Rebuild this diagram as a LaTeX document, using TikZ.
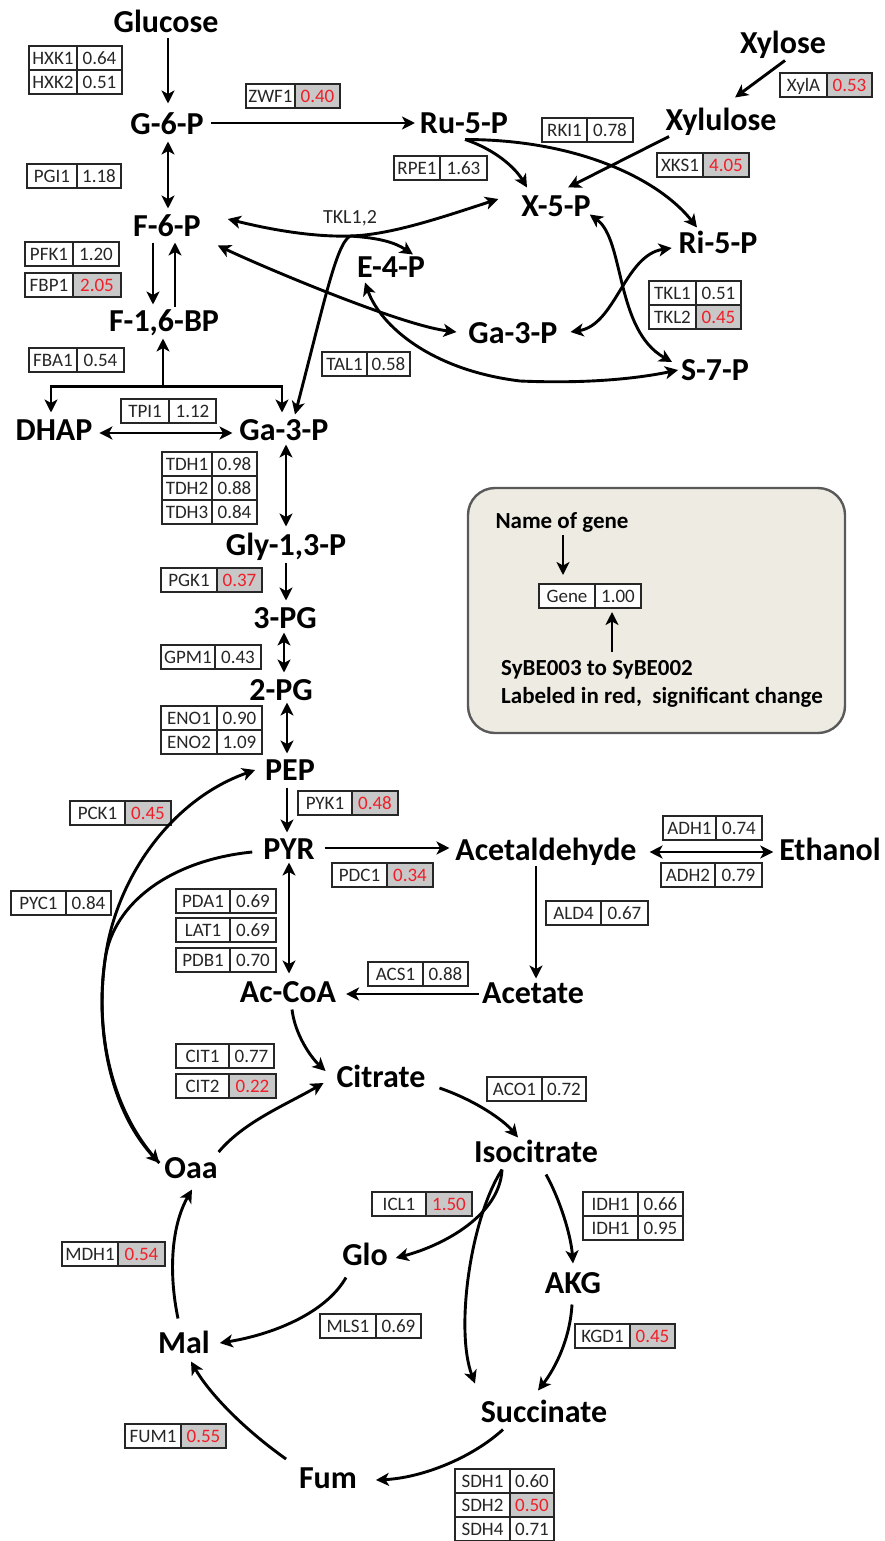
\documentclass[tikz,border=0pt]{standalone}
\usepackage{fontspec}
\setmainfont{Carlito}
\usetikzlibrary{arrows.meta,calc}
\definecolor{cellgrey}{RGB}{200,200,200}
\definecolor{redv}{RGB}{240,30,40}
\definecolor{legfill}{RGB}{238,236,226}
\newcommand\metfont{\fontsize{32}{38}\selectfont\bfseries}
\newcommand\genefont{\fontsize{19}{22}\selectfont}
\newcommand\legfont{\fontsize{23}{27}\selectfont\bfseries}
\newcommand\gb[8]{%
  \node[gc,minimum width=#4pt] (#1) at (#2,#3) {#6};
  \node[#8,minimum width=#5pt] (#1v) at (#1.north east) {#7};}
\begin{document}
\begin{tikzpicture}[x=1pt,y=-1pt,
  met/.style={font=\metfont,inner sep=0pt,outer sep=0pt,text height=21pt,text depth=0pt},
  gc/.style={draw=black!85,line width=1.6pt,minimum height=24pt,inner sep=0pt,outer sep=0pt,text height=12.5pt,text depth=0pt,font=\genefont,text=black!85,anchor=north west,fill=white},
  gv/.style={gc},
  gr/.style={gc,fill=cellgrey,text=redv},
  tip/.tip={Stealth[length=13pt,width=13pt,inset=3.5pt]},
  arr/.style={line width=2.9pt,-tip},
  arrb/.style={line width=2.9pt,tip-tip},
]
\useasboundingbox (0,0) rectangle (885,1541);
\fill[white] (0,0) rectangle (885,1541);

% ---------- legend ----------
\node[draw=black!65,line width=2.4pt,fill=legfill,rounded corners=27pt,minimum width=377pt,minimum height=245pt,anchor=north west,inner sep=0pt,outer sep=0pt] (legend) at (468,488) {};
\node[font=\legfont,inner sep=0pt,anchor=base,text depth=0pt] (nog) at (562,528) {Name of gene};
\gb{lg}{539}{584}{56}{46}{Gene}{1.00}{gv}
\node[font=\legfont,inner sep=0pt,anchor=base west] (sybe) at (501,675) {SyBE003 to SyBE002};
\node[font=\legfont,inner sep=0pt,anchor=base west] (lab) at (501,703) {Labeled in red,\ \ significant change};
\draw[arr,line width=2.6pt] ($(nog.south)+(1,7)$) -- ($(lg.north)+(-4,-9)$);
\draw[arr,line width=2.6pt] ($(lgv.south)+(-6,44)$) -- ($(lgv.south)+(-6,4)$);

% ---------- metabolites ----------
\node[met] (glc) at (166,22) {Glucose};
\node[met] (g6p) at (167,124) {G-6-P};
\node[met] (ru5p) at (464,123) {Ru-5-P};
\node[met] (xyl) at (783,43) {Xylose};
\node[met] (xylu) at (721,120) {Xylulose};
\node[met] (x5p) at (556,206) {X-5-P};
\node[met] (ri5p) at (718,243) {Ri-5-P};
\node[met] (f6p) at (167,226) {F-6-P};
\node[met] (e4p) at (391,267) {E-4-P};
\node[met] (ga3pb) at (513,333) {Ga-3-P};
\node[met] (s7p) at (715,370) {S-7-P};
\node[met] (fbp) at (164,321) {F-1,6-BP};
\node[met] (dhap) at (54,430) {DHAP};
\node[met] (ga3p) at (284,430) {Ga-3-P};
\node[met] (gly) at (286,545) {Gly-1,3-P};
\node[met] (pg3) at (285,618) {3-PG};
\node[met] (pg2) at (281,690) {2-PG};
\node[met] (pep) at (290,770) {PEP};
\node[met] (pyr) at (289,849) {PYR};
\node[met] (acald) at (546,850) {Acetaldehyde};
\node[met] (etoh) at (830,850) {Ethanol};
\node[met] (acet) at (533,993) {Acetate};
\node[met] (accoa) at (288,992) {Ac-CoA};
\node[met] (cit) at (381,1077) {Citrate};
\node[met] (icit) at (536,1152) {Isocitrate};
\node[met] (oaa) at (191,1168) {Oaa};
\node[met] (glo) at (365,1255) {Glo};
\node[met] (akg) at (573,1283) {AKG};
\node[met] (mal) at (184,1343) {Mal};
\node[met] (suc) at (544,1412) {Succinate};
\node[met] (fum) at (328,1478) {Fum};

\node[font=\fontsize{20}{24}\selectfont,text=black!85,inner sep=0pt] (tkl) at (350,218) {TKL1,2};

% ---------- gene boxes ----------
\gb{hxka}{29}{46}{48}{45}{HXK1}{0.64}{gv}
\gb{hxkb}{29}{70}{48}{45}{HXK2}{0.51}{gv}
\gb{zwf}{246}{84}{49}{45}{ZWF1}{0.40}{gr}
\gb{pgi}{27}{164}{50}{44}{PGI1}{1.18}{gv}
\gb{pfk}{25}{242}{48}{46}{PFK1}{1.20}{gv}
\gb{fbpa}{25}{273}{48}{48}{FBP1}{2.05}{gr}
\gb{fba}{29}{348}{48}{47}{FBA1}{0.54}{gv}
\gb{tpi}{121}{399}{48}{47}{TPI1}{1.12}{gv}
\gb{tal}{322}{352}{45}{43}{TAL1}{0.58}{gv}
\gb{rki}{542}{118}{45}{46}{RKI1}{0.78}{gv}
\gb{rpe}{394}{156}{46}{47}{RPE1}{1.63}{gv}
\gb{xyla}{780}{73}{47}{45}{XylA}{0.53}{gr}
\gb{xks}{657}{153}{46}{46}{XKS1}{4.05}{gr}
\gb{tkla}{649}{281}{47}{45}{TKL1}{0.51}{gv}
\gb{tklb}{649}{305}{47}{45}{TKL2}{0.45}{gr}
\gb{tdha}{162}{452}{50}{45}{TDH1}{0.98}{gv}
\gb{tdhb}{162}{476}{50}{45}{TDH2}{0.88}{gv}
\gb{tdhc}{162}{500}{50}{45}{TDH3}{0.84}{gv}
\gb{pgk}{161}{568}{56}{45}{PGK1}{0.37}{gr}
\gb{gpm}{161}{645}{54}{46}{GPM1}{0.43}{gv}
\gb{enoa}{161}{706}{56}{45}{ENO1}{0.90}{gv}
\gb{enob}{161}{730}{56}{45}{ENO2}{1.09}{gv}
\gb{pck}{70}{801}{55}{46}{PCK1}{0.45}{gr}
\gb{pyk}{298}{791}{54}{46}{PYK1}{0.48}{gr}
\gb{pdc}{332}{863}{55}{46}{PDC1}{0.34}{gr}
\gb{pyc}{11}{891}{55}{45}{PYC1}{0.84}{gv}
\gb{pda}{176}{889}{54}{46}{PDA1}{0.69}{gv}
\gb{lat}{176}{918}{54}{46}{LAT1}{0.69}{gv}
\gb{pdb}{176}{948}{54}{46}{PDB1}{0.70}{gv}
\gb{adha}{663}{816}{53}{46}{ADH1}{0.74}{gv}
\gb{adhb}{661}{863}{54}{47}{ADH2}{0.79}{gv}
\gb{ald}{546}{901}{55}{47}{ALD4}{0.67}{gv}
\gb{acs}{368}{962}{55}{45}{ACS1}{0.88}{gv}
\gb{cita}{176}{1044}{53}{45}{CIT1}{0.77}{gv}
\gb{citb}{176}{1074}{53}{47}{CIT2}{0.22}{gr}
\gb{aco}{487}{1077}{55}{44}{ACO1}{0.72}{gv}
\gb{icl}{372}{1192}{54}{46}{ICL1}{1.50}{gr}
\gb{idha}{583}{1192}{55}{45}{IDH1}{0.66}{gv}
\gb{idhb}{583}{1216}{55}{45}{IDH1}{0.95}{gv}
\gb{mdh}{62}{1242}{56}{47}{MDH1}{0.54}{gr}
\gb{mls}{320}{1314}{56}{45}{MLS1}{0.69}{gv}
\gb{kgd}{575}{1324}{55}{45}{KGD1}{0.45}{gr}
\gb{fum1}{125}{1424}{56}{45}{FUM1}{0.55}{gr}
\gb{sdha}{455}{1469}{55}{44}{SDH1}{0.60}{gv}
\gb{sdhb}{455}{1493}{55}{44}{SDH2}{0.50}{gr}
\gb{sdhc}{455}{1517}{55}{44}{SDH4}{0.71}{gv}

% ---------- glycolysis ----------
\draw[arr] ($(glc.south)+(2,6)$) -- ($(g6p.north)+(1,-10)$);
\draw[arr] ($(g6p.east)+(7,-1)$) -- ($(ru5p.west)+(-5,0)$);
\draw[arrb] ($(g6p.south)+(1,7)$) -- ($(f6p.north)+(1,-7)$);
\draw[arr] ($(f6p.south)+(-14,6)$) -- ($(fbp.north)+(-11,-6)$);
\draw[arr] ($(fbp.north)+(11,-4)$) -- ($(f6p.south)+(8,6)$);
\coordinate (fj) at ($(fbp.south)+(-1,55)$);
\draw[arr] (fj) -- ($(fbp.south)+(-1,7)$);
\draw[arr] (fj) -| ($(dhap.north)+(-3,-7)$);
\draw[arr] (fj) -| ($(ga3p.north)+(-2,-7)$);
\draw[arrb] ($(dhap.east)+(7,3)$) -- ($(ga3p.west)+(-7,3)$);
\draw[arrb] ($(ga3p.south)+(2,4)$) -- ($(gly.north)+(0,-8)$);
\draw[arr] ($(gly.south)+(0,7)$) -- ($(pg3.north)+(1,-7)$);
\draw[arrb] ($(pg3.south)+(-1,4)$) -- ($(pg2.north)+(3,-7)$);
\draw[arrb] ($(pg2.south)+(6,2)$) -- ($(pep.north)+(-3,-6)$);
\draw[arr] ($(pep.south)+(-3,7)$) -- ($(pyr.north)+(-2,-6)$);
\draw[arr] ($(pyr.east)+(10,-1)$) -- ($(acald.west)+(-6,-2)$);
\draw[arrb] ($(pyr.south)+(0,3)$) -- ($(accoa.north)+(1,-8)$);
\draw[arrb] ($(acald.east)+(13,2)$) -- ($(etoh.west)+(-6,2)$);
\draw[arr] ($(acald.south)+(-10,5)$) -- ($(acet.north)+(3,-4)$);
\draw[arr] ($(acet.west)+(-3,1)$) -- ($(accoa.east)+(10,2)$);

% ---------- anaplerotic ----------
\coordinate (pm) at (105,960);
\draw[arr] ($(oaa.west)+(-5,-5)$) .. controls (110,1110) and (95,1030) .. (pm) .. controls (115,880) and (170,800) .. ($(pep.west)+(-10,0)$);
\draw[arr] ($(pyr.west)+(-11,3)$) .. controls (172,860) and (113,902) .. (pm) .. controls (95,1030) and (110,1110) .. ($(oaa.west)+(-5,-5)$);

% ---------- TCA ----------
\draw[arr] ($(accoa.south)+(4,7)$) .. controls +(3,25) and +(-15,-14) .. ($(cit.west)+(-11,-6)$);
\draw[arr] ($(oaa.east)+(1,-16)$) .. controls +(25,-30) and +(-38,22) .. ($(cit.west)+(-13,6)$);
\draw[arr] ($(cit.east)+(14,11)$) .. controls +(35,12) and +(-15,-18) .. ($(icit.north)+(-18,-4)$);
\draw[arr] ($(icit.south)+(10,12)$) .. controls +(14,25) and +(-2,-28) .. ($(akg.north)+(0,-9)$);
\draw[arr] ($(icit.south)+(-34,7)$) .. controls +(-2,45) and +(49,-13) .. ($(glo.east)+(8,3)$);
\draw[arr] ($(icit.south)+(-34,7)$) .. controls +(-32,50) and +(-20,-53) .. ($(suc.north)+(-69,-18)$);
\draw[arr] ($(akg.south)+(-1,11)$) .. controls +(-2,35) and +(17,-22) .. ($(suc.north)+(-6,-11)$);
\draw[arr] ($(suc.south)+(-41,7)$) .. controls +(-33,30) and +(44,-2) .. ($(fum.east)+(19,2)$);
\draw[arr] ($(fum.west)+(-13,-19)$) .. controls +(-41,-29) and +(19,33) .. ($(mal.south)+(7,8)$);
\draw[arr] ($(mal.north)+(-6,-14)$) .. controls +(-10,-48) and +(-20,35) .. ($(oaa.south)+(1,11)$);
\draw[arr] ($(glo.south)+(-19,12)$) .. controls +(-21,37) and +(50,-8) .. ($(mal.east)+(10,0)$);

% ---------- pentose phosphate ----------
\draw[arr] ($(xyl.south)+(2,7)$) -- ($(xylu.north)+(14,-12)$);
\draw[arr] ($(xylu.south)+(-52,6)$) -- ($(x5p.north)+(12,-8)$);
\draw[arr] ($(ru5p.south)+(1,6)$) .. controls +(30,10) and +(-12,-20) .. ($(x5p.north)+(-29,-8)$);
\draw[arr] ($(ru5p.south)+(1,6)$) .. controls +(115,0) and +(-37,-47) .. ($(ri5p.north)+(-21,-5)$);
\coordinate (tj) at (350,236);
\draw[arrb] ($(f6p.east)+(27,-7)$) .. controls (280,232) and (320,237) .. (tj) .. controls (390,235) and (440,218) .. ($(x5p.west)+(-23,-7)$);
\draw[arr] (tj) .. controls +(30,2) and +(-18,-12) .. ($(e4p.north)+(22,-2)$);
\draw[arr] (tj) .. controls +(-14,9) and +(30,-115) .. ($(ga3p.north)+(11,-5)$);
\draw[arrb] ($(f6p.south east)+(17,9)$) .. controls +(42,20) and +(-57,-7) .. ($(ga3pb.west)+(-12,-1)$);
\draw[arrb] ($(e4p.south)+(-26,5)$) .. controls (380,325) and (430,370) .. (520,381) .. controls (590,384) and (640,378) .. ($(s7p.west)+(-3,0)$);
\draw[arrb] ($(x5p.south east)+(-1,-2)$) .. controls +(35,25) and +(-57,-32) .. ($(s7p.west)+(-9,-8)$);
\draw[arrb] ($(ri5p.west)+(-7,5)$) .. controls +(-47,7) and +(45,-7) .. ($(ga3pb.east)+(13,-1)$);
\end{tikzpicture}
\end{document}
